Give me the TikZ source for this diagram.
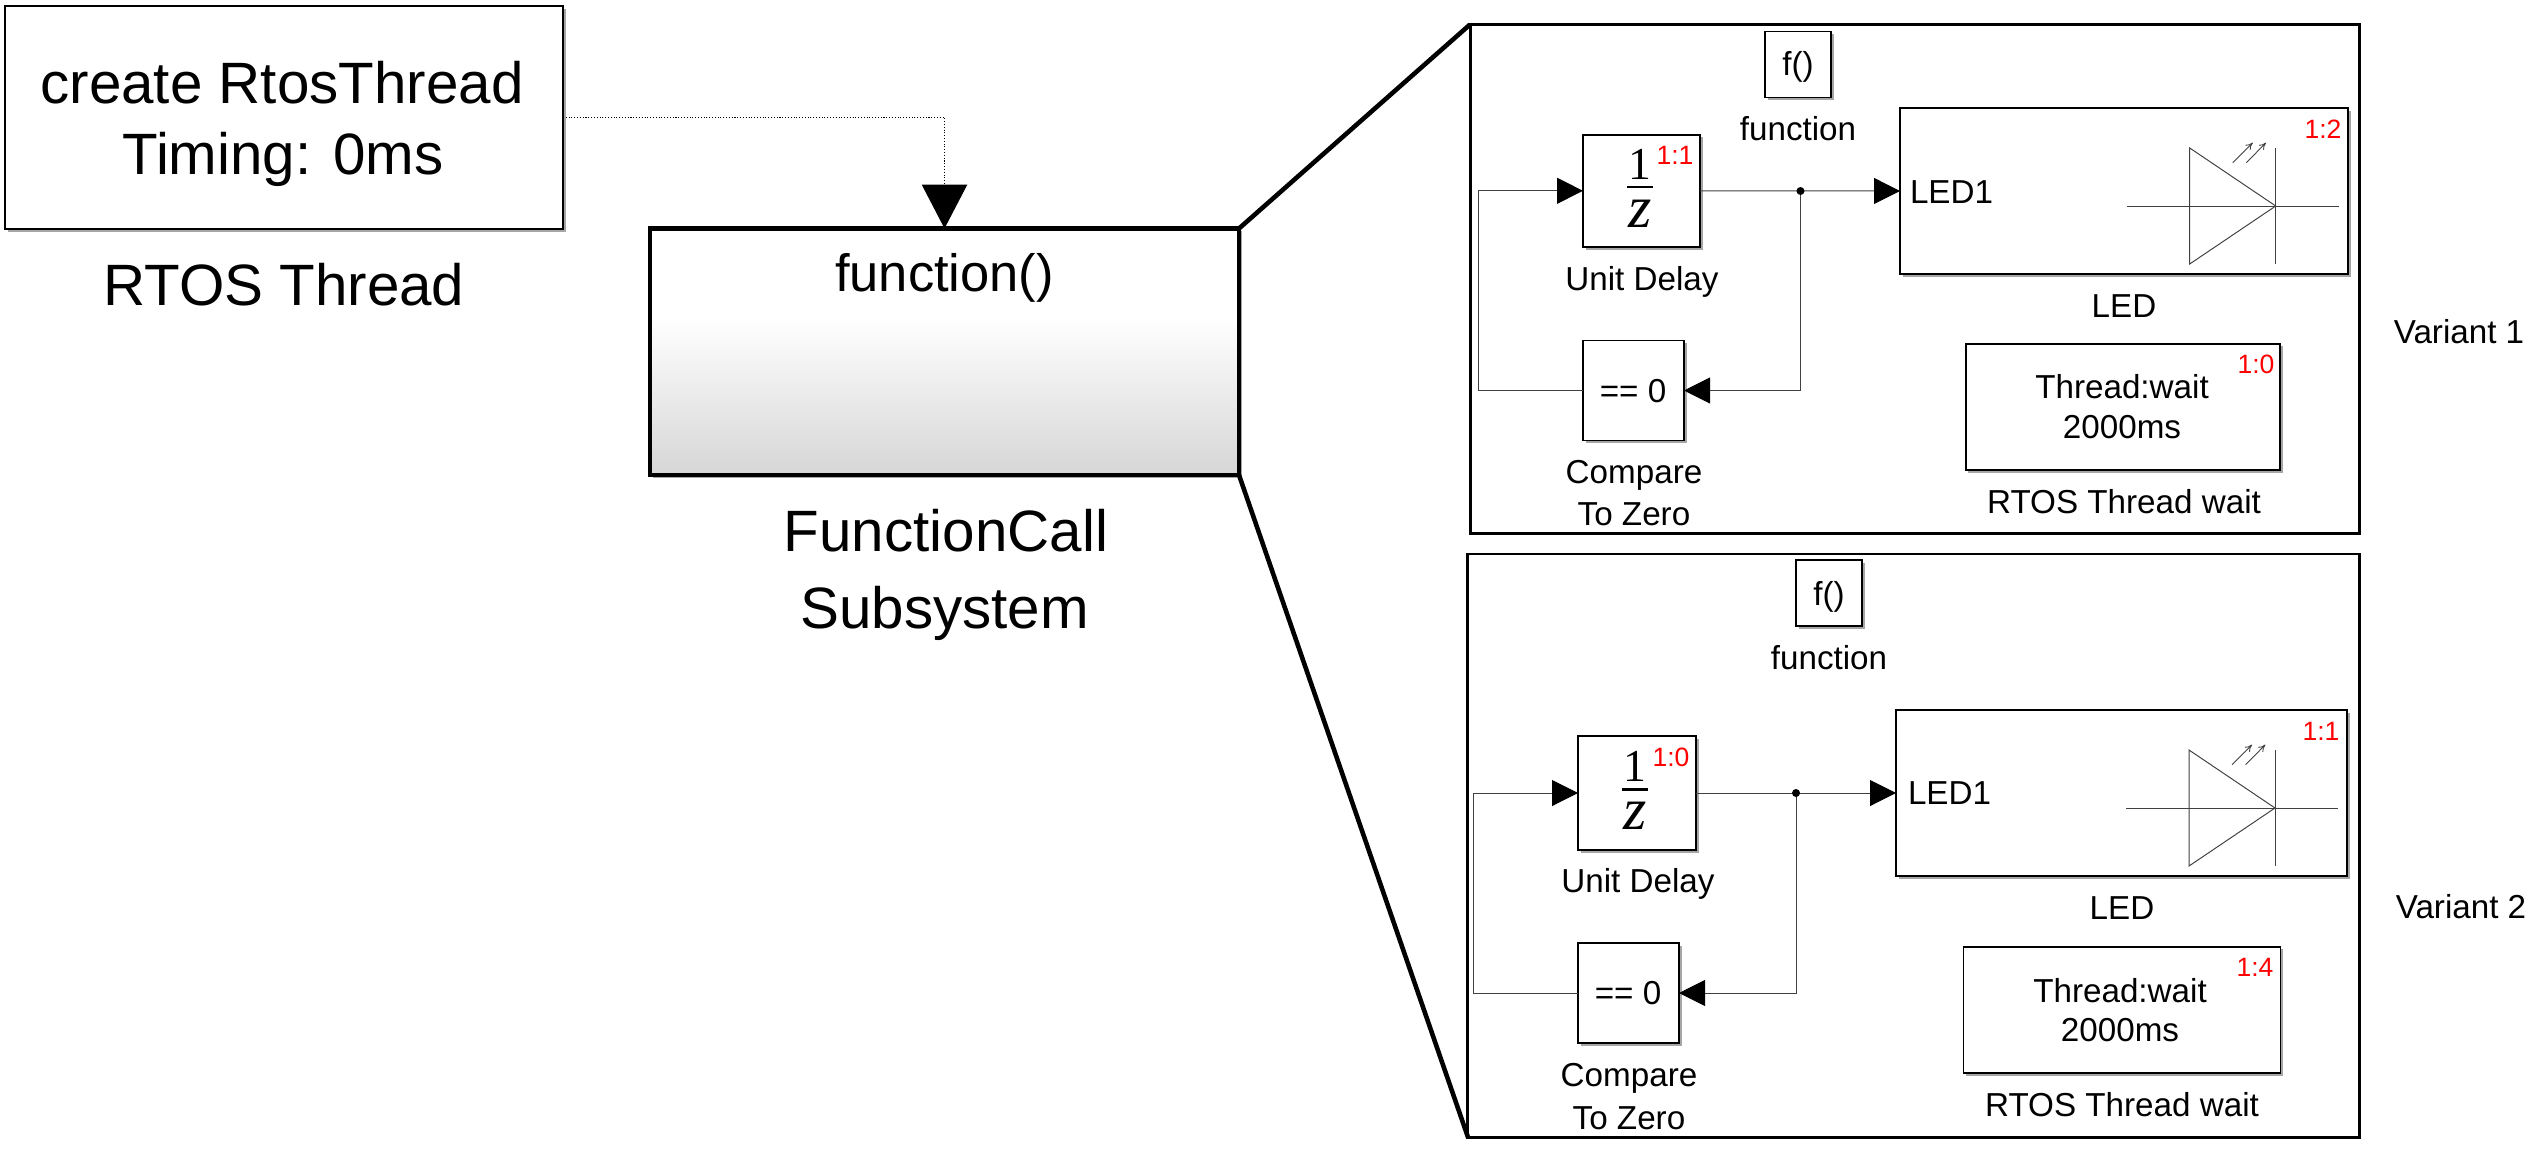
\documentclass[tikz,border=0pt]{standalone}
\usepackage{fontspec}
\setmainfont{Liberation Sans}
\newfontfamily\fracfont{Liberation Serif}
\usepackage{xcolor}
\definecolor{wiregray}{HTML}{404040}
\definecolor{fcbot}{HTML}{D6D6D6}
\usepackage{tikz}
\usetikzlibrary{arrows.meta, shadows}
\newlength{\pxlen}
\setlength{\pxlen}{0.02cm}
\pgfdeclareverticalshading{fcgrad}{100bp}{color(0bp)=(fcbot); color(25bp)=(fcbot); color(57bp)=(white); color(75bp)=(white); color(100bp)=(white)}
\tikzset{
  softshadow/.style={general shadow={shadow xshift=1.5pt, shadow yshift=-1.5pt, fill=black!35}},
  simblock/.style={draw=black, line width=1.1pt, fill=white, inner sep=0pt, outer sep=0pt, softshadow},
  panelbox/.style={draw=black, line width=1.7pt, inner sep=0pt, outer sep=0pt},
  zoomline/.style={line width=2.6pt},
  wire/.style={draw=wiregray, line width=0.55pt, -{Triangle[length=14.8pt,width=14.8pt,color=black]}},
  basetext/.style={anchor=base, inner sep=0pt, outer sep=0pt},
  bigtext/.style={basetext, font=\fontsize{33.2}{33}\selectfont},
  midtext/.style={basetext, font=\fontsize{29.9}{30}\selectfont},
  smalltext/.style={basetext, font=\fontsize{18.9}{19}\selectfont},
  rednum/.style={basetext, text=red, font=\fontsize{15.1}{15}\selectfont},
  fracnum/.style={basetext, font=\fracfont\fontsize{26}{26}\selectfont},
  fracden/.style={basetext, font=\fracfont\itshape\fontsize{34}{34}\selectfont},
  fracbar/.style={line width=1.7pt},
}

\begin{document}
\begin{tikzpicture}[x=0.02cm, y=-0.02cm]
  \useasboundingbox (0,0) rectangle (2542,1149);

  % Zoom panels
  \node[panelbox, minimum width=889\pxlen, minimum height=509\pxlen] (panelA) at (1914.5,279) {};
  \node[panelbox, minimum width=892\pxlen, minimum height=583\pxlen] (panelB) at (1913.9,845.5) {};

  % RTOS thread block
  \node[simblock, line width=1.5pt, minimum width=558\pxlen, minimum height=223\pxlen] (threadBlock) at (284,117.5) {};
  \node[bigtext] (threadLineA) at (282,103.5) {create RtosThread};
  \node[bigtext] (threadLineB) at (283,174) {Timing: 0ms};
  \node[bigtext] (threadName) at (284,305.5) {RTOS Thread};

  % Function call subsystem
  \node[draw=black, line width=2.8pt, inner sep=0pt, outer sep=0pt, shade, shading=fcgrad, softshadow,
    minimum width=589\pxlen, minimum height=246.5\pxlen] (fcBlock) at (944.5,351.75) {};
  \node[midtext] (fcPort) at (944.5,291) {function()};
  \node[bigtext] (fcNameA) at (946,551.5) {FunctionCall};
  \node[bigtext] (fcNameB) at (944.5,628) {Subsystem};

  % Function call signal
  \draw[draw=black, line width=0.6pt, densely dotted, -{Triangle[length=25pt,width=26pt,color=black,line width=0pt]}]
    (threadBlock.east) -| (fcBlock.north);

  % Zoom lines
  \draw[zoomline] (fcBlock.north east) -- (panelA.north west);
  \draw[zoomline] (fcBlock.south east) -- (panelB.south west);

  % Variant 1
  \node[simblock, minimum width=66\pxlen, minimum height=66\pxlen] (trigA) at (1798,64.5) {};
  \node[smalltext] (trigTextA) at (1798,76) {f()};
  \node[smalltext] (trigNameA) at (1798,140) {function};
  \node[simblock, minimum width=117\pxlen, minimum height=112.4\pxlen] (delayA) at (1641.5,190.8) {};
  \node[fracnum] (fracNumA) at (1639.5,179) {1};
  \draw[fracbar] (1627,187) -- (1653,187);
  \node[fracden] (fracDenA) at (1640,227) {z};
  \node[rednum] (idDelayA) at (1675,164.5) {1:1};
  \node[smalltext] (delayNameA) at (1642,290) {Unit Delay};
  \node[simblock, minimum width=101\pxlen, minimum height=100\pxlen] (cmpA) at (1633.5,390.5) {};
  \node[smalltext] (cmpTextA) at (1633,402.5) {== 0};
  \node[smalltext] (cmpNameA) at (1634,483) {Compare};
  \node[smalltext] (cmpNameB) at (1634,525.7) {To Zero};
  \node[simblock, minimum width=448\pxlen, minimum height=166\pxlen] (ledA) at (2124,191) {};
  \node[smalltext, anchor=base west] (ledPortA) at (1910,203) {LED1};
  \node[rednum] (idLedA) at (2323,138) {1:2};
  \node[smalltext] (ledNameA) at (2124,317) {LED};
  \node[simblock, minimum width=314.5\pxlen, minimum height=126.4\pxlen] (waitA) at (2123,407) {};
  \node[smalltext] (waitLineA) at (2122,398) {Thread:wait};
  \node[smalltext] (waitTimeA) at (2122,438) {2000ms};
  \node[rednum] (idWaitA) at (2256,373) {1:0};
  \node[smalltext] (waitNameA) at (2124,513) {RTOS Thread wait};
  \node[smalltext] (variantA) at (2459,343) {Variant 1};

  \coordinate (juncA) at (1800.5,191);
  \coordinate (backA) at (1478,300);
  \draw[wire] (delayA.east) -- (ledA.west);
  \draw[wire] (juncA) |- (cmpA.east);
  \draw[wire] (cmpA.west) -| (backA) |- (delayA.west);
  \fill (juncA) circle (4);

  % Variant 2
  \node[simblock, minimum width=66\pxlen, minimum height=66\pxlen] (trigB) at (1829,593) {};
  \node[smalltext] (trigTextB) at (1829,605) {f()};
  \node[smalltext] (trigNameB) at (1829,669) {function};
  \node[simblock, minimum width=118\pxlen, minimum height=114\pxlen] (delayB) at (1637,793) {};
  \node[fracnum] (fracNumB) at (1634.5,781.5) {1};
  \draw[fracbar] (1622,789.5) -- (1648,789.5);
  \node[fracden] (fracDenB) at (1635,829.5) {z};
  \node[rednum] (idDelayB) at (1671,766.6) {1:0};
  \node[smalltext] (delayNameB) at (1638,892.6) {Unit Delay};
  \node[simblock, minimum width=101\pxlen, minimum height=100\pxlen] (cmpB) at (1628.5,993) {};
  \node[smalltext] (cmpTextB) at (1628,1004) {== 0};
  \node[smalltext] (cmpNameC) at (1629,1086.7) {Compare};
  \node[smalltext] (cmpNameD) at (1629,1129.5) {To Zero};
  \node[simblock, minimum width=451\pxlen, minimum height=166\pxlen] (ledB) at (2121.5,793) {};
  \node[smalltext, anchor=base west] (ledPortB) at (1908,804.8) {LED1};
  \node[rednum] (idLedB) at (2321,740) {1:1};
  \node[smalltext] (ledNameB) at (2122,919) {LED};
  \node[simblock, minimum width=317\pxlen, minimum height=126.5\pxlen] (waitB) at (2122,1010) {};
  \node[smalltext] (waitLineB) at (2120,1002) {Thread:wait};
  \node[smalltext] (waitTimeB) at (2120,1041) {2000ms};
  \node[rednum] (idWaitB) at (2255,976.7) {1:4};
  \node[smalltext] (waitNameB) at (2122,1116) {RTOS Thread wait};
  \node[smalltext] (variantB) at (2461,918.6) {Variant 2};

  \coordinate (juncB) at (1796,793);
  \coordinate (backB) at (1473,900);
  \draw[wire] (delayB.east) -- (ledB.west);
  \draw[wire] (juncB) |- (cmpB.east);
  \draw[wire] (cmpB.west) -| (backB) |- (delayB.west);
  \fill (juncB) circle (4);

  % LED icons
  \foreach \tx/\ty in {2275.7/206, 2275/808} {
    \draw[draw=wiregray, line width=0.55pt] (\tx-149,\ty) -- (\tx+63,\ty);
    \draw[draw=wiregray, line width=0.55pt] (\tx,\ty-58) -- (\tx,\ty+58);
    \draw[draw=wiregray, line width=0.55pt] (\tx-86,\ty-58) -- (\tx,\ty) -- (\tx-86,\ty+58) -- cycle;
    \draw[draw=wiregray, line width=0.5pt, -{To[length=4pt,width=4pt]}] (\tx-43,\ty-43.3) -- (\tx-23,\ty-63.3);
    \draw[draw=wiregray, line width=0.5pt, -{To[length=4pt,width=4pt]}] (\tx-29.4,\ty-43.3) -- (\tx-9.7,\ty-63.3);
  }
\end{tikzpicture}
\end{document}
